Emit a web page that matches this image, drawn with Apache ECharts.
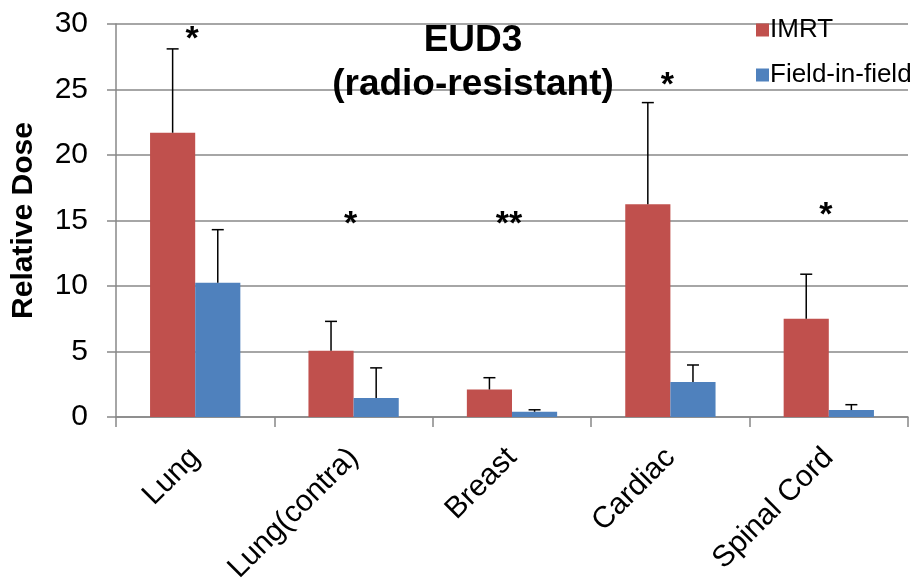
<!DOCTYPE html>
<html><head><meta charset="utf-8">
<script src="https://cdn.jsdelivr.net/npm/echarts@6/dist/echarts.min.js"></script>
<style>html,body{margin:0;padding:0;background:#fff}#c{width:922px;height:584px}</style>
</head><body><div id="c"></div>
<script>
const categories = ['Lung', 'Lung(contra)', 'Breast', 'Cardiac', 'Spinal Cord'];
const imrt = [21.7, 5.05, 2.1, 16.25, 7.5];
const imrtErrTop = [28.1, 7.3, 3.0, 24.0, 10.9];
const fif = [10.25, 1.45, 0.4, 2.67, 0.53];
const fifErrTop = [14.3, 3.75, 0.55, 3.97, 0.94];
const sigMarks = ['*', '*', '**', '*', '*'];
const sigLevel = [29.4, 15.3, 15.3, 25.9, 16.0];
const yTicks = [0, 5, 10, 15, 20, 25, 30];

const FONT = 'Liberation Sans, Arial, sans-serif';
const catGap = 0.43;

function errSeries(name, vals, tops, side) {
  return {
    type: 'custom', name: name + '_err', silent: true, z: 5,
    data: vals.map((v, i) => [i, v, tops[i]]),
    renderItem: function (params, api) {
      const i = api.value(0);
      const band = api.size([1, 0])[0];
      const bw = band * (1 - catGap) / 2;
      const base = api.coord([i, api.value(1)]);
      const top = api.coord([i, api.value(2)]);
      const x = base[0] + side * bw / 2;
      const st = { stroke: '#000', lineWidth: 1.5 };
      return { type: 'group', children: [
        { type: 'line', shape: { x1: x, y1: base[1], x2: x, y2: top[1] }, style: st },
        { type: 'line', shape: { x1: x - 6, y1: top[1], x2: x + 6, y2: top[1] }, style: st }
      ]};
    }
  };
}

const chart = echarts.init(document.getElementById('c'));
chart.setOption({
  animation: false,
  title: {
    text: 'EUD3\n(radio-resistant)', left: 468, top: 14, textAlign: 'center',
    textStyle: { fontFamily: FONT, fontWeight: 'bold', fontSize: 37, lineHeight: 44, color: '#000' }
  },
  legend: {
    orient: 'vertical', left: 751, top: 12, itemWidth: 13, itemHeight: 13, itemGap: 19,
    icon: 'rect',
    data: ['IMRT', 'Field-in-field'],
    textStyle: { fontFamily: FONT, fontSize: 26, color: '#000', padding: [0, 0, 0, -4] }
  },
  grid: { left: 116, right: 14, top: 24, bottom: 167, containLabel: false, outerBoundsMode: 'none' },
  xAxis: {
    type: 'category', data: categories,
    axisLine: { lineStyle: { color: '#888', width: 1.5 } },
    axisTick: { show: true, length: 10, lineStyle: { color: '#888', width: 1.5 } },
    axisLabel: { rotate: 45, margin: 36, fontFamily: FONT, fontSize: 30, color: '#000' }
  },
  yAxis: {
    type: 'value', min: 0, max: 30, interval: 5,
    name: 'Relative Dose', nameLocation: 'middle', nameGap: 77,
    nameTextStyle: { fontFamily: FONT, fontWeight: 'bold', fontSize: 30, color: '#000' },
    axisLine: { show: true, lineStyle: { color: '#888', width: 1.5 } },
    axisTick: { show: true, length: 9, lineStyle: { color: '#888', width: 1.5 } },
    splitLine: { lineStyle: { color: '#888', width: 1.5 } },
    axisLabel: { margin: 28, fontFamily: FONT, fontSize: 30, color: '#000',
      formatter: v => yTicks.includes(v) ? String(v) : '' }
  },
  series: [
    { name: 'IMRT', type: 'bar', data: imrt, barGap: '0%', barCategoryGap: (catGap * 100) + '%',
      itemStyle: { color: '#C0504D' } },
    { name: 'Field-in-field', type: 'bar', data: fif, barGap: '0%', barCategoryGap: (catGap * 100) + '%',
      itemStyle: { color: '#4F81BD' } },
    errSeries('IMRT', imrt, imrtErrTop, -1),
    errSeries('Field-in-field', fif, fifErrTop, 1),
    {
      type: 'custom', name: 'sig', silent: true, z: 6,
      data: sigLevel.map((v, i) => [i, v]),
      renderItem: function (params, api) {
        const p = api.coord([api.value(0), api.value(1)]);
        return { type: 'text', x: p[0] - 3, y: p[1] + 8,
          style: { text: sigMarks[params.dataIndex], fontFamily: FONT, fontWeight: 'bold',
            fontSize: 34, fill: '#000', align: 'center', verticalAlign: 'middle' } };
      }
    }
  ]
});
</script></body></html>
